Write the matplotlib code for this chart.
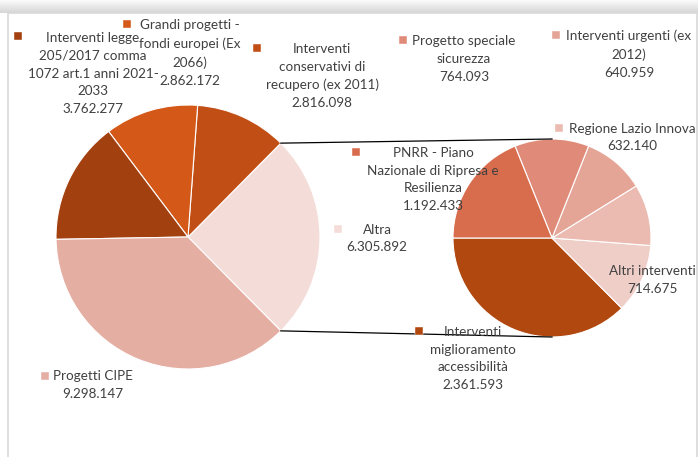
import numpy as np
import matplotlib.pyplot as plt
from matplotlib.colors import LinearSegmentedColormap

W, H = 698, 457

# main pie (Altra is split into the secondary pie)
main_labels = ["Altra", "Interventi\nconservativi di\nrecupero (ex 2011)",
               "Grandi progetti -\nfondi europei (Ex\n2066)",
               "Interventi legge\n205/2017 comma\n1072 art.1 anni 2021-\n2033",
               "Progetti CIPE"]
main_values = [6305892, 2816098, 2862172, 3762277, 9298147]
main_colors = ["#F4DDD8", "#C14F15", "#D45817", "#A2400F", "#E5AEA3"]

# secondary pie (breakdown of Altra)
sec_labels = ["Interventi\nmiglioramento\naccessibilità", "Altri interventi",
              "Regione Lazio Innova", "Interventi urgenti (ex\n2012)",
              "Progetto speciale\nsicurezza", "PNRR - Piano\nNazionale di Ripresa e\nResilienza"]
sec_values = [2361593, 714675, 632140, 640959, 764093, 1192433]
sec_colors = ["#B0480F", "#EFCEC7", "#EBBBB1", "#E4A597", "#E08B7A", "#D86D4E"]


def fmt(v):
    return f"{v:,}".replace(",", ".")


plt.rcParams["font.family"] = ["Lato", "DejaVu Sans"]

fig = plt.figure(figsize=(W / 100, H / 100), dpi=100)
ax = fig.add_axes([0, 0, 1, 1])

# top shadow and frame
cmap = LinearSegmentedColormap.from_list("sh", ["#fbfbfb", "#d6d6d6"])
ax.imshow(np.linspace(0, 1, 30)[:, None], cmap=cmap, extent=(0, W, H - 13, H),
          aspect="auto", origin="upper", zorder=0)
ax.plot([8, 8, 697, 697], [0, H - 13, H - 13, 0], color="#d9d9d9", lw=1.2, zorder=1)

main_c, main_r = (188, H - 237), 132
sec_c, sec_r = (552, H - 238), 99

altra_deg = 360 * main_values[0] / sum(main_values)
ax.pie(main_values, colors=main_colors, startangle=-altra_deg / 2, counterclock=True,
       center=main_c, radius=main_r, wedgeprops=dict(edgecolor="white", linewidth=0.8))
ax.pie(sec_values, colors=sec_colors, startangle=180, counterclock=True,
       center=sec_c, radius=sec_r, wedgeprops=dict(edgecolor="white", linewidth=0.8))

# connector lines
a = np.deg2rad(altra_deg / 2)
for s in (1, -1):
    x0 = main_c[0] + main_r * np.cos(a)
    y0 = main_c[1] + s * main_r * np.sin(a)
    ax.plot([x0, sec_c[0]], [y0, sec_c[1] + s * sec_r], color="black", lw=0.9, zorder=3)

# data labels: (text, value, colour, center x, center y, marker x, marker y) in pixels
labels = [
    (main_labels[3], main_values[3], main_colors[3], 93, 73.5, 18, 36),
    (main_labels[2], main_values[2], main_colors[2], 190, 53, 127, 24),
    (main_labels[1], main_values[1], main_colors[1], 322, 76, 257, 48),
    (main_labels[0], main_values[0], main_colors[0], 377, 238.5, 338, 229),
    (main_labels[4], main_values[4], main_colors[4], 93, 385, 45, 376),
    (sec_labels[4], sec_values[4], sec_colors[4], 464, 59, 403, 40),
    (sec_labels[3], sec_values[3], sec_colors[3], 629, 54, 556, 35),
    (sec_labels[2], sec_values[2], sec_colors[2], 632, 137.5, 559, 128),
    (sec_labels[5], sec_values[5], sec_colors[5], 433, 179.5, 356, 152),
    (sec_labels[1], sec_values[1], sec_colors[1], 652, 280, None, None),
    (sec_labels[0], sec_values[0], sec_colors[0], 473, 358.5, 419, 331),
]
for txt, val, col, cx, cy, mx, my in labels:
    ax.text(cx, H - cy, f"{txt}\n{fmt(val)}", ha="center", va="center",
            fontsize=9.7, color="#404040", linespacing=1.58, zorder=5)
    if mx is not None:
        ax.plot(mx, H - my, marker="s", ms=6.3, color=col, mec="white", mew=0.3,
                ls="none", zorder=5)

ax.set_xlim(0, W)
ax.set_ylim(0, H)
ax.set_aspect("equal")
ax.axis("off")
fig.savefig("out.png", dpi=100)
